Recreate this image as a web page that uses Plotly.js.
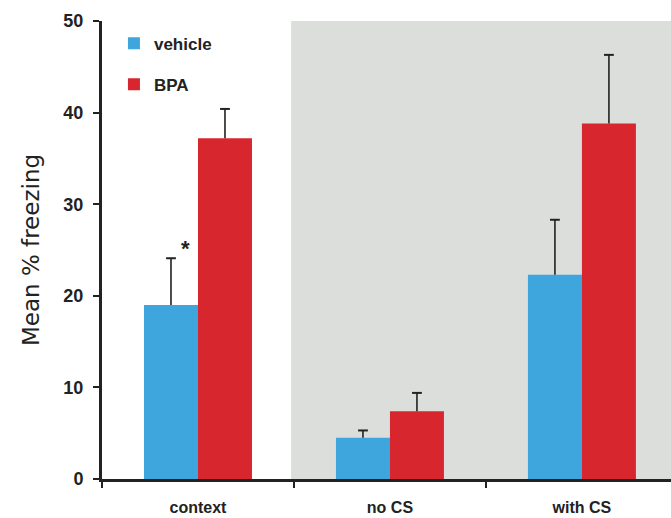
<!DOCTYPE html>
<html>
<head>
<meta charset="utf-8">
<script src="https://cdn.plot.ly/plotly-3.0.1.min.js"></script>
<style>html,body{margin:0;padding:0;background:#fff;}#chart{width:671px;height:518px;}</style>
</head>
<body>
<div id="chart"></div>
<script>
var categories = ["context", "no CS", "with CS"];
var vehicleMean = [19.0, 4.5, 22.3];
var vehicleErr = [5.1, 0.8, 6.0];
var bpaMean = [37.2, 7.4, 38.8];
var bpaErr = [3.2, 2.0, 7.5];
var yTicks = [0, 10, 20, 30, 40, 50];

function tops(m, e) { return m.map(function (v, i) { return v + e[i]; }); }

var errStyle = function (arr) {
  return {type: "data", array: arr, symmetric: false, arrayminus: arr.map(function () { return 0; }),
          color: "#222", thickness: 1.6, width: 0};
};

var traces = [
  {
    type: "bar", name: "vehicle", x: categories, y: vehicleMean,
    marker: {color: "#3ea6dc"}, legendgroup: "a",
    error_y: errStyle(vehicleErr)
  },
  {
    type: "bar", name: "BPA", x: categories, y: bpaMean,
    marker: {color: "#d8262e"}, legendgroup: "b",
    error_y: errStyle(bpaErr)
  },
  {
    type: "scatter", mode: "markers", x: categories, y: tops(vehicleMean, vehicleErr),
    showlegend: false, hoverinfo: "skip",
    marker: {symbol: "line-ew", size: 7, line: {width: 2, color: "#222"}}
  },
  {
    type: "scatter", mode: "markers", x: categories, y: tops(bpaMean, bpaErr),
    showlegend: false, hoverinfo: "skip",
    marker: {symbol: "line-ew", size: 7, line: {width: 2, color: "#222"}}
  }
];

var layout = {
  width: 671, height: 518,
  margin: {l: 102, r: 0, t: 21, b: 39},
  paper_bgcolor: "#fff", plot_bgcolor: "rgba(0,0,0,0)",
  barmode: "group", bargap: 0.4375, bargroupgap: 0,
  scattermode: "group", scattergap: 0.4375,
  font: {family: "Liberation Sans, Arial, sans-serif", color: "#222"},
  showlegend: true,
  legend: {x: 0.021, y: 0.99, xanchor: "left", yanchor: "top", bgcolor: "rgba(0,0,0,0)",
           font: {size: 17, color: "#222", weight: "bold"}, traceorder: "grouped", tracegroupgap: 16, itemwidth: 30},
  xaxis: {
    range: [-0.5, 2.464], showgrid: false, zeroline: false,
    showline: true, linecolor: "#222", linewidth: 3,
    ticks: "outside", tickson: "boundaries", ticklen: 6, tickwidth: 2, tickcolor: "#222",
    ticklabelstandoff: 12,
    tickfont: {size: 16, color: "#222", weight: "bold"}
  },
  yaxis: {
    range: [0, 50], tickvals: yTicks, showgrid: false, zeroline: false,
    showline: true, linecolor: "#222", linewidth: 3,
    ticks: "outside", ticklen: 6, tickwidth: 2, tickcolor: "#222",
    ticklabelstandoff: 6,
    tickfont: {size: 18, color: "#222", weight: "bold"},
    title: {text: "Mean % freezing", font: {size: 23, color: "#222", family: "DejaVu Sans, sans-serif"}, standoff: 18}
  },
  shapes: [
    {type: "rect", layer: "below", xref: "x", yref: "y", x0: 0.485, x1: 2.6, y0: 0, y1: 50,
     fillcolor: "#dcdedc", line: {width: 0}}
  ],
  annotations: [
    {xref: "x", yref: "y", x: categories[0], xshift: -12, y: vehicleMean[0] + vehicleErr[0], yshift: 10,
     text: "*", showarrow: false, font: {size: 22, color: "#222", weight: "bold"}}
  ]
};

Plotly.newPlot("chart", traces, layout, {displayModeBar: false, staticPlot: true});
</script>
</body>
</html>
